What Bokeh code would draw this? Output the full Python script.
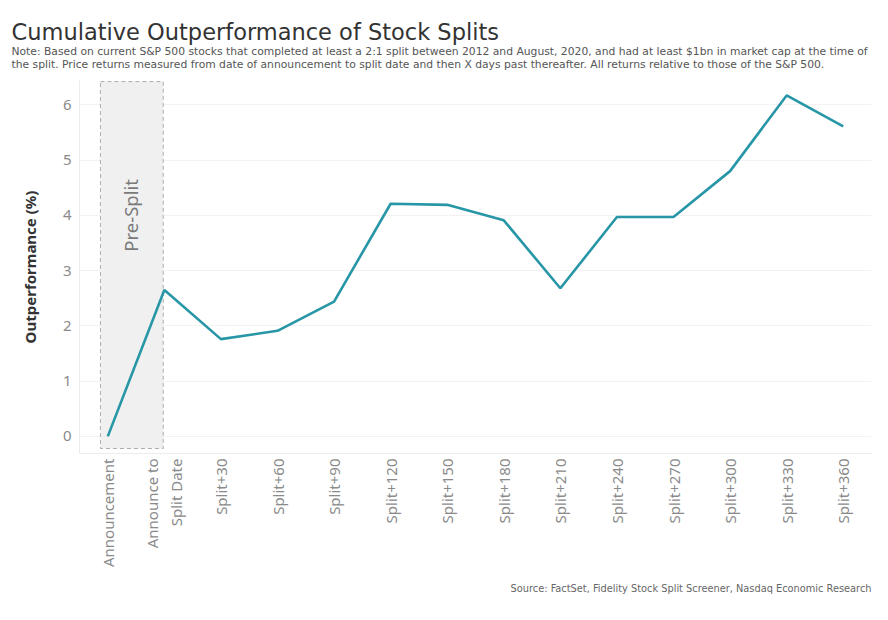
from math import pi

from bokeh.plotting import figure
from bokeh.models import (Range1d, FixedTicker, BoxAnnotation, Label, Title)
from bokeh.embed import file_html
from bokeh.resources import INLINE

# data
categories = ["Announcement", "Announce to\nSplit Date", "Split+30", "Split+60",
              "Split+90", "Split+120", "Split+150", "Split+180", "Split+210",
              "Split+240", "Split+270", "Split+300", "Split+330", "Split+360"]
outperformance = [0.0, 2.65, 1.76, 1.91, 2.44, 4.21, 4.19, 3.91, 2.68,
                  3.97, 3.97, 4.80, 6.17, 5.61]
y_ticks = [0, 1, 2, 3, 4, 5, 6]

title_text = "Cumulative Outperformance of Stock Splits"
note_text = ("Note: Based on current S&P 500 stocks that completed at least a 2:1 split between "
             "2012 and August, 2020, and had at least $1bn in market cap at the time of\n"
             "the split. Price returns measured from date of announcement to split date and then "
             "X days past thereafter. All returns relative to those of the S&P 500.")
source_text = "Source: FactSet, Fidelity Stock Split Screener, Nasdaq Economic Research"

FONT = "Noto Sans"
HEAD_FONT = "DejaVu Sans"
xs = list(range(len(categories)))

p = figure(width=872, height=604, output_backend="svg", toolbar_location=None,
           x_range=Range1d(-0.5, len(categories) - 0.5), y_range=Range1d(-0.31, 6.44),
           min_border_left=79, min_border_right=1, min_border_top=80, min_border_bottom=151)
p.outline_line_color = None
p.title = None

# pre-split shaded band
band = BoxAnnotation(left=-0.13, right=0.98, bottom=-0.22, top=6.42,
                     fill_color="#f0f0f0", fill_alpha=1.0,
                     line_color="#adadad", line_alpha=1.0, line_dash="4 3", line_width=1,
                     level="underlay")
p.add_layout(band)
p.add_layout(Label(x=0.4, y=4.0, text="Pre-Split", angle=pi / 2, text_align="center",
                   text_baseline="middle", text_font=FONT, text_font_size="18.5px",
                   text_color="#7a7a7a"))

p.line(xs, outperformance, line_color="#2796a6", line_width=2.6)

# axes
p.xaxis.ticker = FixedTicker(ticks=xs)
p.xaxis.major_label_overrides = {i: c for i, c in enumerate(categories)}
p.xaxis.major_label_orientation = pi / 2
p.yaxis.ticker = FixedTicker(ticks=y_ticks)
for ax in (p.xaxis, p.yaxis):
    ax.major_tick_line_color = None
    ax.minor_tick_line_color = None
    ax.major_tick_out = 0
    ax.major_tick_in = 0
    ax.axis_line_color = "#ececec"
    ax.major_label_text_font = FONT
    ax.major_label_text_font_size = "15px"
    ax.major_label_text_color = "#8a8a8a"
p.xaxis.major_label_standoff = 5
p.yaxis.major_label_standoff = 8
p.yaxis.axis_label = "Outperformance (%)"
p.yaxis.axis_label_text_font = FONT
p.yaxis.axis_label_text_font_size = "15px"
p.yaxis.axis_label_text_font_style = "bold"
p.yaxis.axis_label_text_color = "#333333"
p.yaxis.axis_label_standoff = 20
p.xgrid.grid_line_color = None
p.ygrid.grid_line_color = "#f2f2f2"

# header (added from the plot outward)
p.add_layout(Title(text=note_text, align="left", offset=-68, text_font=HEAD_FONT,
                   text_font_size="10.75px", text_font_style="normal",
                   text_color="#555555", standoff=20), "above")
p.add_layout(Title(text=title_text, align="left", offset=-68, text_font=HEAD_FONT,
                   text_font_size="22.5px", text_font_style="normal",
                   text_color="#333333", standoff=-24), "above")

# source line
p.add_layout(Title(text=source_text, align="right", text_font=HEAD_FONT,
                   text_font_size="9.8px", text_font_style="normal",
                   text_color="#666666", standoff=20), "below")

open("out.html", "w").write(file_html(p, INLINE))
